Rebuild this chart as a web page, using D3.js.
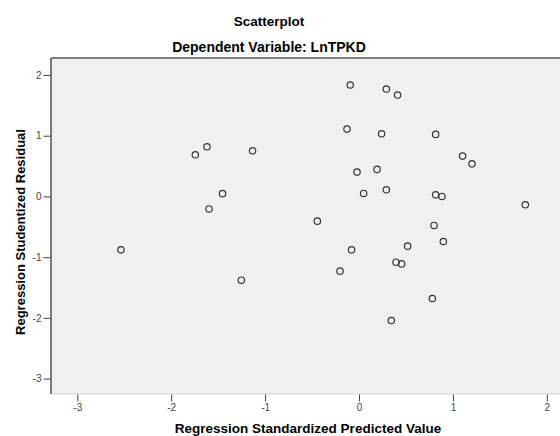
<!DOCTYPE html>
<html>
<head>
<meta charset="utf-8">
<script src="https://cdn.jsdelivr.net/npm/d3@7"></script>
<style>
  html, body { margin: 0; padding: 0; background: #fff; }
  svg { display: block; font-family: "Liberation Sans", Arial, sans-serif; }
</style>
</head>
<body>
<script>
// standardized predicted value (x) and studentized residual (y)
var predicted = [-1.743, -1.619, -1.133, -1.453, -1.597, -0.444, -2.535, -1.253,
  -0.093, 0.291, 0.411, -0.128, 0.241, 0.816, 1.103, 1.203,
  -0.021, 0.192, 0.049, 0.291, 0.816, 0.884, 1.771, 0.799,
  -0.079, 0.518, 0.898, 0.394, 0.454, -0.202, 0.781, 0.344];
var residual = [0.686, 0.818, 0.752, 0.046, -0.206, -0.407, -0.880, -1.380,
  1.835, 1.769, 1.670, 1.109, 1.032, 1.022, 0.664, 0.537,
  0.401, 0.445, 0.049, 0.109, 0.026, 0.000, -0.138, -0.478,
  -0.880, -0.819, -0.742, -1.083, -1.111, -1.231, -1.681, -2.044];
var xTicks = [-3, -2, -1, 0, 1, 2];
var yTicks = [-3, -2, -1, 0, 1, 2];

var width = 560;
var height = 436;
var plot = { left: 51, right: 575, top: 58, bottom: 394 };

var x = d3.scaleLinear().domain([-3.28, 2.30]).range([plot.left, plot.right]);
var y = d3.scaleLinear().domain([-3.254, 2.28]).range([plot.bottom, plot.top]);

var svg = d3.select('body').append('svg')
    .attr('width', width)
    .attr('height', height);

// plot background
svg.append('rect')
    .attr('x', plot.left)
    .attr('y', plot.top)
    .attr('width', plot.right - plot.left)
    .attr('height', plot.bottom - plot.top)
    .attr('fill', '#f0f0f0');

// frame: dark top/left, light bottom
svg.append('line')
    .attr('x1', plot.left).attr('x2', plot.right)
    .attr('y1', plot.bottom).attr('y2', plot.bottom)
    .attr('stroke', '#d4d4d4').attr('stroke-width', 1);
svg.append('line')
    .attr('x1', plot.left).attr('x2', plot.right)
    .attr('y1', plot.top).attr('y2', plot.top)
    .attr('stroke', '#5a5a5a').attr('stroke-width', 1.6);
svg.append('line')
    .attr('x1', plot.left).attr('x2', plot.left)
    .attr('y1', plot.top).attr('y2', plot.bottom)
    .attr('stroke', '#5a5a5a').attr('stroke-width', 1.6);

// plain hyphen for negatives, like the original
var fmt = function (d) { return String(d); };

// axes
var xAxis = d3.axisBottom(x)
    .tickValues(xTicks)
    .tickSize(7)
    .tickPadding(2)
    .tickFormat(fmt);
var gx = svg.append('g')
    .attr('transform', 'translate(0,' + (plot.bottom + 0.5) + ')')
    .call(xAxis);

var yAxis = d3.axisLeft(y)
    .tickValues(yTicks)
    .tickSize(7)
    .tickPadding(2)
    .tickFormat(fmt);
var gy = svg.append('g')
    .attr('transform', 'translate(' + (plot.left - 0.5) + ',0)')
    .call(yAxis);

[gx, gy].forEach(function (g) {
    g.select('.domain').remove();
    g.selectAll('.tick line').attr('stroke', '#444').attr('stroke-width', 1);
    g.selectAll('.tick text')
        .attr('fill', '#444')
        .style('font-size', '10px')
        .style('font-family', '"Liberation Sans", Arial, sans-serif');
});

// points
svg.append('g')
    .selectAll('circle')
    .data(predicted.map(function (d, i) { return [d, residual[i]]; }))
    .enter().append('circle')
    .attr('cx', function (d) { return x(d[0]); })
    .attr('cy', function (d) { return y(d[1]); })
    .attr('r', 3.2)
    .attr('fill', 'none')
    .attr('stroke', '#333')
    .attr('stroke-width', 1.2);

// titles
svg.append('text')
    .attr('x', 269).attr('y', 25.5)
    .attr('text-anchor', 'middle')
    .style('font-size', '13.5px').style('font-weight', 'bold')
    .text('Scatterplot');
svg.append('text')
    .attr('x', 269).attr('y', 52)
    .attr('text-anchor', 'middle')
    .style('font-size', '14px').style('font-weight', 'bold')
    .text('Dependent Variable: LnTPKD');

svg.append('text')
    .attr('x', 308).attr('y', 433)
    .attr('text-anchor', 'middle')
    .style('font-size', '13.5px').style('font-weight', 'bold')
    .text('Regression Standardized Predicted Value');

svg.append('text')
    .attr('transform', 'translate(25,232) rotate(-90)')
    .attr('text-anchor', 'middle')
    .style('font-size', '13px').style('font-weight', 'bold')
    .text('Regression Studentized Residual');
</script>
</body>
</html>
